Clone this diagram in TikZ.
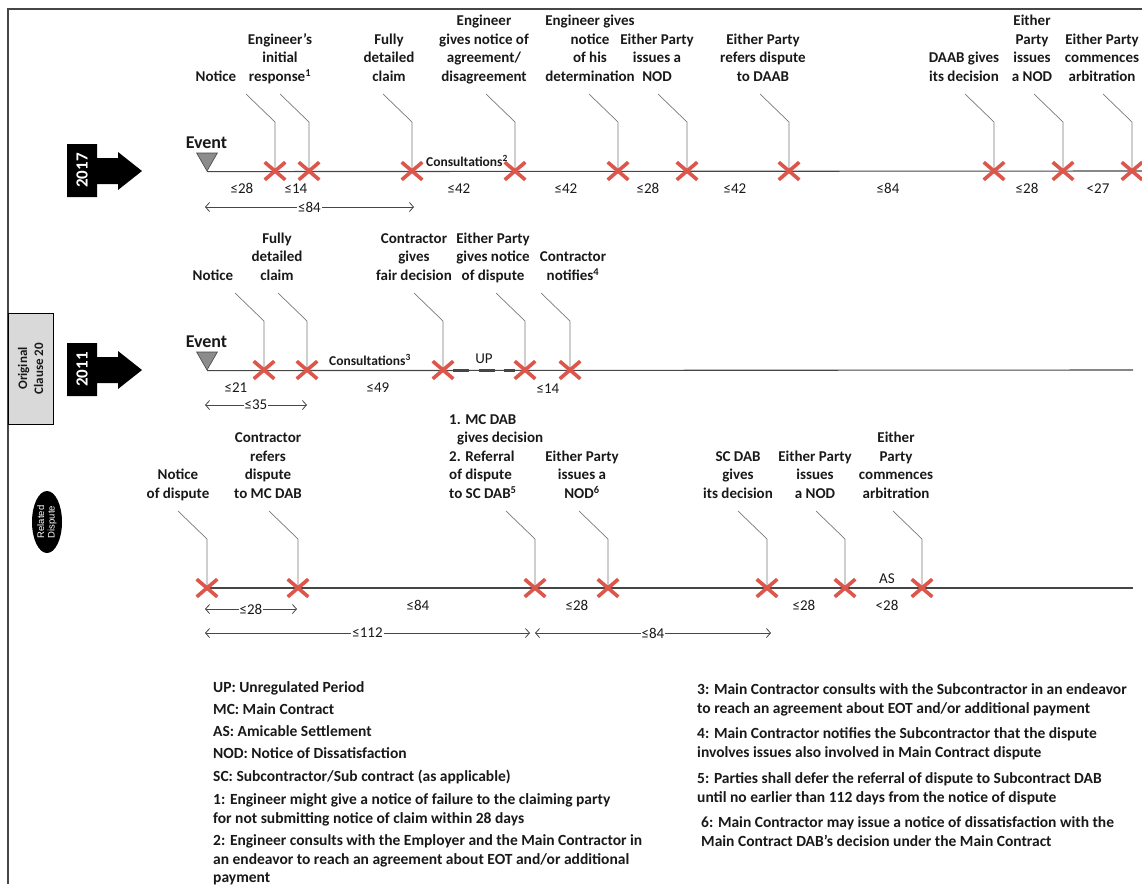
\documentclass[tikz,border=0pt]{standalone}
\usepackage{fontspec}
\setmainfont{Carlito}
\newfontfamily\tagsans{Liberation Sans}
\usetikzlibrary{shapes.geometric,shapes.misc,arrows.meta,backgrounds}

\definecolor{crossred}{RGB}{221,86,76}
\definecolor{axisgray}{RGB}{70,70,70}
\definecolor{leadgray}{RGB}{120,120,120}
\definecolor{panelgray}{RGB}{217,217,217}
\definecolor{inkgray}{RGB}{25,25,25}
\definecolor{trifill}{RGB}{140,140,140}

\tikzset{
  crossmark/.style={cross out, draw=crossred, line width=3.6pt, minimum width=17pt, minimum height=14pt, inner sep=0pt},
  evtri/.style={regular polygon, regular polygon sides=3, shape border rotate=180, minimum size=24pt, inner sep=0pt, fill=trifill, draw=axisgray, line width=0.6pt},
  evlabel/.style={font=\fontsize{18}{18}\selectfont\bfseries, text=inkgray, inner sep=0pt, anchor=base},
  steplabel/.style={font=\fontsize{15}{18.5}\selectfont\bfseries, text=inkgray, align=center, anchor=south, inner sep=0pt},
  daynum/.style={font=\fontsize{15}{15}\selectfont, text=inkgray, inner sep=0pt},
  tline/.style={draw=axisgray, line width=1.1pt},
  leader/.style={draw=leadgray, line width=0.7pt},
  updash/.style={draw=axisgray, line width=3pt, dash pattern=on 16pt off 9.5pt},
  spanarrow/.style={draw=axisgray, line width=0.8pt, {Straight Barb[length=4pt,width=9pt]}-{Straight Barb[length=4pt,width=9pt]}},
  spanlabel/.style={font=\fontsize{15}{15}\selectfont, text=inkgray, fill=white, inner xsep=1pt, inner ysep=0pt},
  legendtext/.style={font=\fontsize{15.5}{18.5}\selectfont\bfseries, text=inkgray, align=left, anchor=north west, inner sep=0pt},
  consult/.style={font=\fontsize{13.5}{14}\selectfont\bfseries, text=inkgray, inner sep=0pt},
  yeartext/.style={rotate=90, text=white, font=\fontsize{17}{17}\selectfont\bfseries, inner sep=0pt},
}

% one milestone: cross on the axis, bent leader and its caption
% [caption options]{name}{x}{axis y}{caption x}{caption}
\newcommand\tlevent[6][]{%
  \node[crossmark] (#2) at (#3,#4) {};
  \coordinate (#2-knee) at (#3,#4-49);
  \coordinate (#2-tip) at (#3-29,#4-77);
  \node[steplabel,#1] (#2-txt) at (#5,#4-83.95) {#6\strut};
  \begin{scope}[on background layer]
    \draw[leader] (#2.center) -- (#2-knee) -- (#2-tip);
  \end{scope}
}

% black year tag with arrow: {name}{vertical offset}{year}
\newcommand\yeartag[3]{%
  \begin{scope}[shift={(0,#2)}]
    \fill[black] (67,144) -- (97,144) -- (97,158) -- (118,158) -- (118,152) -- (142,171)
      -- (118,190) -- (118,184) -- (97,184) -- (97,197) -- (67,197) -- cycle;
    \node[yeartext] (#1) at (82,170.5) {#3};
  \end{scope}
}

\begin{document}
\begin{tikzpicture}[x=1pt,y=-1pt]
\useasboundingbox (0,0) rectangle (1142,884);

% frame
\coordinate (frameBL) at (8,884);
\coordinate (frameTL) at (8,9);
\coordinate (frameTR) at (1142,9);
\draw[axisgray, line width=1.4pt] (frameBL) -- (frameTL) -- (frameTR);

% ================= 2017 =================
\yeartag{y17}{0}{2017}
\node[evtri] (ev17) at (207,159) {};
\node[evlabel] (ev17txt) at (206.5,148.5) {Event};
\coordinate (end17) at (1142,171);
\begin{scope}[on background layer]
  \draw[tline] (ev17.south) -- (end17);
\end{scope}

\tlevent{a1}{275}{171}{216}{Notice}
\tlevent{a2}{309}{171}{280}{Engineer’s\\initial\\response\textsuperscript{1}}
\tlevent{a3}{412}{171}{389}{Fully\\detailed\\claim}
\tlevent{a4}{515}{171}{484}{Engineer\\gives notice of\\agreement/\\disagreement}
\tlevent{a5}{618}{171}{590}{Engineer gives\\notice\\of his\\determination}
\tlevent{a6}{687}{171}{657}{Either Party\\issues a\\NOD}
\tlevent{a7}{789}{171}{763}{Either Party\\refers dispute\\to DAAB}
\tlevent{a8}{994}{171}{964}{DAAB gives\\its decision}
\tlevent{a9}{1063}{171}{1032}{Either\\Party\\issues\\a NOD}
\tlevent{a10}{1132}{171}{1102}{Either Party\\commences\\arbitration}

\node[consult] (cons17) at (467,161) {Consultations\textsuperscript{2}};

\node[daynum] (n17a) at (242,188.5) {≤28};
\node[daynum] (n17b) at (296,188.5) {≤14};
\node[daynum] (n17c) at (459,188.5) {≤42};
\node[daynum] (n17d) at (566,188.5) {≤42};
\node[daynum] (n17e) at (648,188.5) {≤28};
\node[daynum] (n17f) at (735,188.5) {≤42};
\node[daynum] (n17g) at (888,188.5) {≤84};
\node[daynum] (n17h) at (1027,188.5) {≤28};
\node[daynum] (n17i) at (1098,188.5) {<27};

\coordinate (s17a) at (205,207);
\coordinate (s17b) at (414,207);
\draw[spanarrow] (s17a) -- node[spanlabel] (s17t) {≤84} (s17b);

% ================= 2011 =================
\node[rotate=90, draw=black, line width=0.8pt, fill=panelgray, minimum width=111pt, minimum height=45pt,
      inner sep=0pt, align=center, text=inkgray, font=\fontsize{13}{16}\selectfont\bfseries]
      (clause) at (30.5,368.5) {Original\\Clause 20};

\yeartag{y11}{199}{2011}
\node[evtri] (ev11) at (207,358) {};
\node[evlabel] (ev11txt) at (206.5,347.5) {Event};
\coordinate (end11) at (1133,370);
\begin{scope}[on background layer]
  \draw[tline] (ev11.south) -- (end11);
\end{scope}

\tlevent{b1}{264}{370}{213}{Notice}
\tlevent{b2}{307}{370}{277}{Fully\\detailed\\claim}
\tlevent{b3}{443}{370}{414}{Contractor\\gives\\fair decision}
\tlevent{b4}{525}{370}{493}{Either Party\\gives notice\\of dispute}
\tlevent{b5}{570}{370}{573}{Contractor\\notifies\textsuperscript{4}}

% unregulated period between the two crosses
\begin{scope}[on background layer]
  \draw[updash] (b3.east) -- (b4.west);
\end{scope}
\node[consult] (cons11) at (370,360) {Consultations\textsuperscript{3}};
\node[daynum] (up11) at (484,359) {UP};

\node[daynum] (n11a) at (236,387.5) {≤21};
\node[daynum] (n11b) at (378,387.5) {≤49};
\node[daynum] (n11c) at (548,388.5) {≤14};

\coordinate (s11a) at (205,405);
\coordinate (s11b) at (307,405);
\draw[spanarrow] (s11a) -- node[spanlabel] (s11t) {≤35} (s11b);

% ================= related dispute =================
\node[ellipse, rotate=90, fill=black, minimum width=62pt, minimum height=30pt, inner sep=0pt,
      align=center, text=white, font=\tagsans\fontsize{9.5}{10.5}\selectfont] (related) at (47,522) {Related\\Dispute};

\tlevent{c1}{207}{588}{178}{Notice\\of dispute}
\tlevent{c2}{298}{588}{268}{Contractor\\refers\\dispute\\to MC DAB}
\tlevent[align=left, anchor=south west]{c3}{535}{588}{449}{1. MC DAB\\\hspace*{8pt}gives decision\\2. Referral\\of dispute\\to SC DAB\textsuperscript{5}}
\tlevent{c4}{608}{588}{582}{Either Party\\issues a\\NOD\textsuperscript{6}}
\tlevent{c5}{767}{588}{738}{SC DAB\\gives\\its decision}
\tlevent{c6}{845}{588}{815}{Either Party\\issues\\a NOD}
\tlevent{c7}{922}{588}{896}{Either\\Party\\commences\\arbitration}

\coordinate (endrd) at (1133,588);
\begin{scope}[on background layer]
  \draw[tline] (c1.center) -- (endrd);
\end{scope}

\node[daynum] (as) at (887,579) {AS};
\node[daynum] (nrda) at (418,605.5) {≤84};
\node[daynum] (nrdb) at (577,605.5) {≤28};
\node[daynum] (nrdc) at (804,605.5) {≤28};
\node[daynum] (nrdd) at (887,605.5) {<28};

\coordinate (srd1a) at (205,609);
\coordinate (srd1b) at (297,609);
\draw[spanarrow] (srd1a) -- node[spanlabel] (srd1t) {≤28} (srd1b);
\coordinate (srd2a) at (205,633);
\coordinate (srd2b) at (530,633);
\draw[spanarrow] (srd2a) -- node[spanlabel] (srd2t) {≤112} (srd2b);
\coordinate (srd3a) at (535,633);
\coordinate (srd3b) at (771,633);
\draw[spanarrow] (srd3a) -- node[spanlabel] (srd3t) {≤84} (srd3b);

% ================= notes =================
\node[legendtext] (k1) at (213,679.35) {\strut UP: Unregulated Period};
\node[legendtext] (k2) at (213,701.35) {\strut MC: Main Contract};
\node[legendtext] (k3) at (213,723.75) {\strut AS: Amicable Settlement};
\node[legendtext] (k4) at (213,745.35) {\strut NOD: Notice of Dissatisfaction};
\node[legendtext] (k5) at (213,768.75) {\strut SC: Subcontractor/Sub contract (as applicable)};
\node[legendtext] (k6) at (213,791.35) {\strut 1: Engineer might give a notice of failure to the claiming party\\for not submitting notice of claim within 28 days};
\node[legendtext] (k7) at (213,832.55) {\strut 2: Engineer consults with the Employer and the Main Contractor in\\an endeavor to reach an agreement about EOT and/or additional\\payment};

\node[legendtext] (k8) at (697,681.35) {\strut 3: Main Contractor consults with the Subcontractor in an endeavor\\to reach an agreement about EOT and/or additional payment};
\node[legendtext] (k9) at (697,725.35) {\strut 4: Main Contractor notifies the Subcontractor that the dispute\\involves issues also involved in Main Contract dispute};
\node[legendtext] (k10) at (697,770.35) {\strut 5: Parties shall defer the referral of dispute to Subcontract DAB\\until no earlier than 112 days from the notice of dispute};
\node[legendtext] (k11) at (701,814.75) {\strut 6: Main Contractor may issue a notice of dissatisfaction with the\\Main Contract DAB’s decision under the Main Contract};
\end{tikzpicture}
\end{document}
